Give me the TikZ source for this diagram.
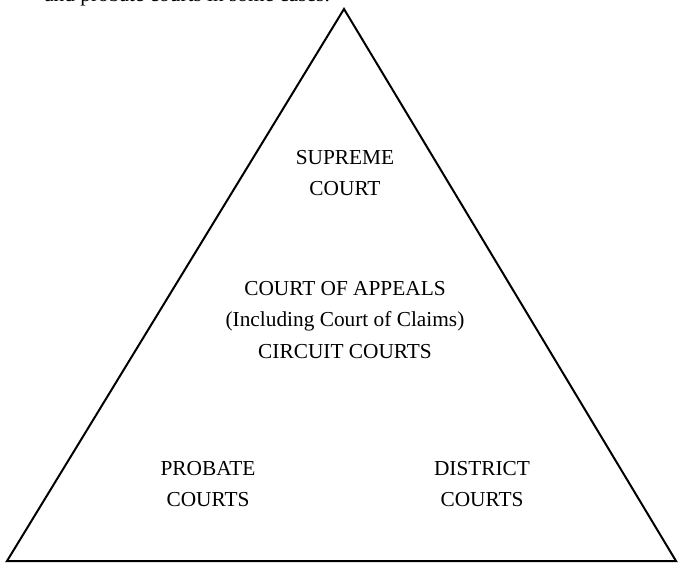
\documentclass[tikz,border=0pt]{standalone}
\usepackage{fontspec}
\setmainfont{Liberation Serif}
\begin{document}
\begin{tikzpicture}[x=0.75pt,y=-0.75pt,
    court/.style={align=center,font=\fontsize{16}{23.6}\selectfont,inner sep=0pt}]
  % Rahmen
  \useasboundingbox (0,0) rectangle (678,563);

  % abgeschnittene Zeile oben
  \begin{scope}
    \clip (0,0) rectangle (678,563);
    \node[court,anchor=base west] (zeile) at (44,1.5) {and probate courts in some cases.};
  \end{scope}

  % Pyramide
  \coordinate (spitze) at (344,9);
  \coordinate (links) at (7,561);
  \coordinate (rechts) at (676,561);
  \draw[line width=1.5pt,line join=miter] (spitze) -- (links) -- (rechts) -- cycle;

  % Gerichte
  \node[court] (supreme) at (345,173) {SUPREME\\COURT};
  \node[court] (appeals) at (345,320) {COURT OF APPEALS\\(Including Court of Claims)\\CIRCUIT COURTS};
  \node[court] (probate) at (208,484) {PROBATE\\COURTS};
  \node[court] (district) at (482,484) {DISTRICT\\COURTS};

\end{tikzpicture}
\end{document}
